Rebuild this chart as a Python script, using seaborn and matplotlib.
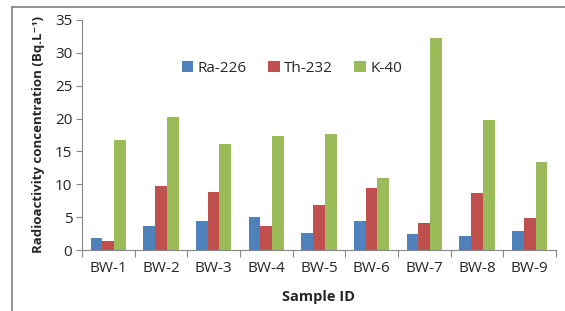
import numpy as np
import pandas as pd
import matplotlib
matplotlib.use("Agg")
import matplotlib.pyplot as plt
import seaborn as sns
from matplotlib.lines import Line2D

# data
samples = ["BW-1", "BW-2", "BW-3", "BW-4", "BW-5", "BW-6", "BW-7", "BW-8", "BW-9"]
ra226 = [1.9, 3.7, 4.4, 5.0, 2.6, 4.4, 2.5, 2.2, 2.9]
th232 = [1.4, 9.7, 8.9, 3.7, 6.8, 9.4, 4.1, 8.6, 4.9]
k40 = [16.8, 20.2, 16.1, 17.3, 17.7, 11.0, 32.2, 19.8, 13.4]
series = ["Ra-226", "Th-232", "K-40"]
colors = ["#4F81BD", "#C0504D", "#9BBB59"]

df = pd.DataFrame({"Sample ID": samples * 3,
                   "value": ra226 + th232 + k40,
                   "nuclide": [s for s in series for _ in samples]})

sns.set_style("white")
plt.rcParams["font.family"] = ["Open Sans", "DejaVu Sans"]

fig = plt.figure(figsize=(5.65, 3.11), dpi=100)
ax = fig.add_axes([0.145, 0.196, 0.839, 0.740])

sns.barplot(data=df, x="Sample ID", y="value", hue="nuclide",
            palette=colors, width=0.67, saturation=1, ax=ax, legend=True,
            linewidth=0, edgecolor="none")

ax.set_ylim(0, 35)
ax.set_xlim(-0.5, len(samples) - 0.5)
ax.set_yticks(np.arange(0, 36, 5))
ax.tick_params(axis="y", labelsize=11, length=4, color="#868686", width=0.8, left=True, pad=3)
ax.tick_params(axis="x", which="major", labelsize=11, length=0, pad=8)
ax.set_xticks(np.arange(-0.5, len(samples)), minor=True)
ax.tick_params(axis="x", which="minor", length=5, color="#868686", width=0.8, bottom=True)

for s in ["top", "right"]:
    ax.spines[s].set_visible(False)
for s in ["left", "bottom"]:
    ax.spines[s].set_color("#868686")
    ax.spines[s].set_linewidth(0.8)

ax.set_xlabel("Sample ID", fontsize=10.5, fontweight="bold", labelpad=10)
ax.set_ylabel("Radioactivity concentration (Bq.L⁻¹)", fontsize=9.5,
              fontweight="bold", labelpad=7)

ax.legend(loc="center", bbox_to_anchor=(0.443, 0.79), ncol=3, frameon=False,
          fontsize=11, handlelength=0.75, handleheight=0.75, handletextpad=0.3,
          columnspacing=1.4)

# grey frame on left and top like the source figure
fig.add_artist(Line2D([0.021, 0.021], [0.0, 0.977], color="#808080", lw=1.2))
fig.add_artist(Line2D([0.021, 1.0], [0.977, 0.977], color="#808080", lw=1.2))

fig.savefig("out.png", dpi=100)
